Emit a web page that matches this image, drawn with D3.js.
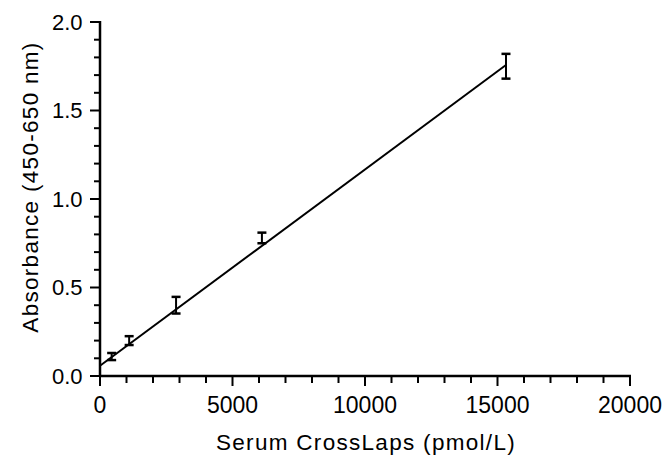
<!DOCTYPE html>
<html>
<head>
<meta charset="utf-8">
<script src="https://cdn.jsdelivr.net/npm/d3@7"></script>
<style>
  body { margin: 0; background: #fff; }
  text { font-family: Arial, "Liberation Sans", sans-serif; fill: #000; }
</style>
</head>
<body>
<svg id="chart" width="667" height="457"></svg>
<script>
// standard curve data
var conc = [440, 1100, 2870, 6110, 15320];
var absorb = [0.11, 0.20, 0.40, 0.78, 1.75];
var errs = [0.02, 0.025, 0.047, 0.03, 0.07];

// fitted line ends
var fitX = [0, 15320];
var fitY = [0.058, 1.757];

var xTicks = [0, 5000, 10000, 15000, 20000];
var yTicks = [0.0, 0.5, 1.0, 1.5, 2.0];

var svg = d3.select("#chart");

var x = d3.scaleLinear().domain([0, 20000]).range([100, 630]);
var y = d3.scaleLinear().domain([0, 2.0]).range([376, 22]);

var g = svg.append("g");

// x axis - minor ticks every 1000
var xMinor = d3.range(0, 20001, 1000);
g.append("g").selectAll("line")
  .data(xMinor)
  .enter().append("line")
  .attr("x1", function(d) { return x(d); })
  .attr("x2", function(d) { return x(d); })
  .attr("y1", y(0))
  .attr("y2", function(d) { return d % 5000 === 0 ? y(0) + 10 : y(0) + 7; })
  .attr("stroke", "#000")
  .attr("stroke-width", 2);

g.append("line")
  .attr("x1", x(0) - 1).attr("x2", x(20000) + 1)
  .attr("y1", y(0)).attr("y2", y(0))
  .attr("stroke", "#000").attr("stroke-width", 2.5);

g.append("g").selectAll("text")
  .data(xTicks)
  .enter().append("text")
  .attr("x", function(d) { return x(d); })
  .attr("y", 412.5)
  .attr("text-anchor", "middle")
  .style("font-size", "23px")
  .text(function(d) { return d; });

// y axis - minor ticks every 0.1
var yMinor = d3.range(0, 21).map(function(i) { return i / 10; });
g.append("g").selectAll("line")
  .data(yMinor)
  .enter().append("line")
  .attr("x1", x(0))
  .attr("x2", function(d, i) { return i % 5 === 0 ? x(0) - 10 : x(0) - 6; })
  .attr("y1", function(d) { return y(d); })
  .attr("y2", function(d) { return y(d); })
  .attr("stroke", "#000")
  .attr("stroke-width", 2);

g.append("line")
  .attr("x1", x(0)).attr("x2", x(0))
  .attr("y1", y(2.0) - 1).attr("y2", y(0) + 1)
  .attr("stroke", "#000").attr("stroke-width", 2.5);

g.append("g").selectAll("text")
  .data(yTicks)
  .enter().append("text")
  .attr("x", 82.5)
  .attr("y", function(d) { return y(d) + 7.5; })
  .attr("text-anchor", "end")
  .style("font-size", "22px")
  .text(function(d) { return d.toFixed(1); });

// axis titles
svg.append("text")
  .attr("x", 366)
  .attr("y", 450)
  .attr("text-anchor", "middle")
  .style("font-size", "22.5px")
  .style("letter-spacing", "1.3px")
  .text("Serum CrossLaps (pmol/L)");

svg.append("text")
  .attr("transform", "translate(38,187) rotate(-90)")
  .attr("text-anchor", "middle")
  .style("font-size", "22.5px")
  .style("letter-spacing", "1.3px")
  .text("Absorbance (450-650 nm)");

// fitted line
g.append("line")
  .attr("x1", x(fitX[0])).attr("y1", y(fitY[0]))
  .attr("x2", x(fitX[1])).attr("y2", y(fitY[1]))
  .attr("stroke", "#000").attr("stroke-width", 2);

// error bars
var pts = conc.map(function(c, i) { return { x: c, y: absorb[i], e: errs[i] }; });
var eb = g.append("g").selectAll("g")
  .data(pts)
  .enter().append("g");

eb.append("line")
  .attr("x1", function(d) { return x(d.x); })
  .attr("x2", function(d) { return x(d.x); })
  .attr("y1", function(d) { return y(d.y + d.e); })
  .attr("y2", function(d) { return y(d.y - d.e); })
  .attr("stroke", "#000").attr("stroke-width", 2);

[1, -1].forEach(function(s) {
  eb.append("line")
    .attr("x1", function(d) { return x(d.x) - 4.5; })
    .attr("x2", function(d) { return x(d.x) + 4.5; })
    .attr("y1", function(d) { return y(d.y + s * d.e); })
    .attr("y2", function(d) { return y(d.y + s * d.e); })
    .attr("stroke", "#000").attr("stroke-width", 2.5);
});
</script>
</body>
</html>
